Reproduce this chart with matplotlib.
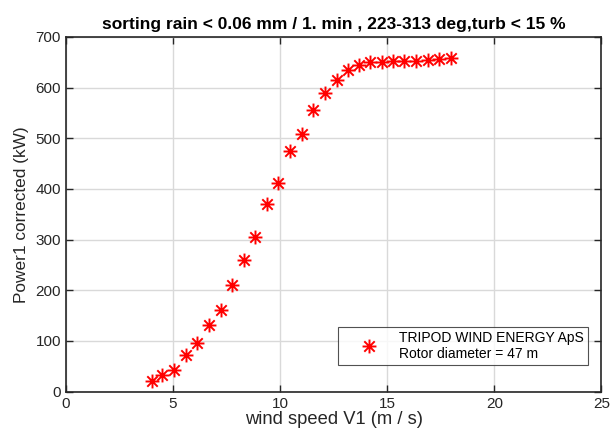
import matplotlib.pyplot as plt
from matplotlib.path import Path

plt.rcParams['font.family'] = ['Liberation Sans', 'DejaVu Sans']

# Power curve
wind_speed = [4.0, 4.5, 5.05, 5.6, 6.13, 6.69, 7.23, 7.76, 8.3, 8.85, 9.39, 9.92,
              10.48, 11.02, 11.53, 12.1, 12.64, 13.17, 13.69, 14.2, 14.75, 15.28,
              15.8, 16.33, 16.89, 17.42, 17.98]
power = [21, 33, 42, 72, 97, 131, 161, 211, 260, 306, 370, 411,
         474, 509, 555, 590, 614, 635, 645, 650, 651, 653,
         653, 653, 655, 657, 658]

legend_label = 'TRIPOD WIND ENERGY ApS\nRotor diameter = 47 m'
xticks = [0, 5, 10, 15, 20, 25]
yticks = [0, 100, 200, 300, 400, 500, 600, 700]

# MATLAB-style asterisk: plus + cross
d = 0.75
asterisk = Path(
    [(-1, 0), (1, 0), (0, -1), (0, 1), (-d, -d), (d, d), (-d, d), (d, -d)],
    [Path.MOVETO, Path.LINETO] * 4,
)

dark = '#262626'
fig = plt.figure(figsize=(6.1, 4.37), dpi=100)
ax = fig.add_axes([0.108, 0.1037, 0.878, 0.812])

ax.plot(wind_speed, power, linestyle='none', marker=asterisk, markersize=10,
        markerfacecolor='none', markeredgecolor='red', markeredgewidth=1.4,
        label=legend_label, zorder=3)

ax.set_xlim(0, 25)
ax.set_ylim(0, 700)
ax.set_xticks(xticks)
ax.set_yticks(yticks)
ax.grid(True, color='#d9d9d9', linewidth=1)
ax.set_axisbelow(True)
ax.tick_params(direction='in', top=True, right=True, length=5, width=1,
               colors=dark, labelsize=11, labelcolor=dark)
for s in ax.spines.values():
    s.set_color(dark)
    s.set_linewidth(1.2)

ax.set_xlabel('wind speed V1 (m / s)', fontsize=13.2, color=dark, labelpad=0)
ax.set_ylabel('Power1 corrected (kW)', fontsize=12.4, color=dark, labelpad=5)
ax.set_title('sorting rain < 0.06 mm / 1. min , 223-313 deg,turb < 15 %',
             fontsize=12.5, fontweight='bold', color='black', pad=6)

leg = ax.legend(loc='lower right', bbox_to_anchor=(0.974, 0.075), fontsize=10,
                frameon=True, fancybox=False, edgecolor=dark, handlelength=4.0,
                borderpad=0.3, handletextpad=0.1, borderaxespad=0)
leg.get_frame().set_linewidth(0.8)

fig.savefig('out.png', dpi=100)
